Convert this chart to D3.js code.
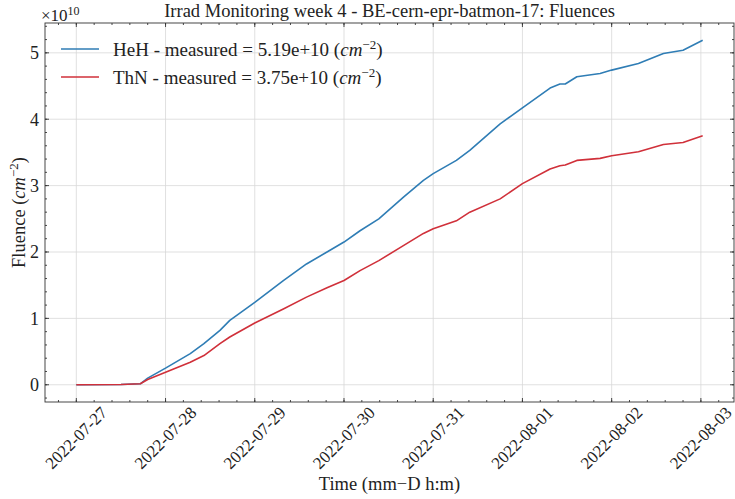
<!DOCTYPE html>
<html>
<head>
<meta charset="utf-8">
<script src="https://cdn.jsdelivr.net/npm/d3@7"></script>
<style>
  body { margin: 0; background: #fff; }
  svg { font-family: "Liberation Serif", "DejaVu Serif", serif; }
</style>
</head>
<body>
<svg id="chart" width="735" height="499"></svg>
<script>
// sample times (UTC)
const times = [
  '2022-07-27 00:00', '2022-07-27 12:00', '2022-07-27 17:13', '2022-07-27 19:12',
  '2022-07-28 00:00', '2022-07-28 06:39', '2022-07-28 10:19', '2022-07-28 14:38',
  '2022-07-28 17:17', '2022-07-29 00:00', '2022-07-29 07:41', '2022-07-29 13:55',
  '2022-07-29 19:26', '2022-07-30 00:00', '2022-07-30 04:19', '2022-07-30 09:22',
  '2022-07-30 16:05', '2022-07-30 21:22', '2022-07-31 00:00', '2022-07-31 06:14',
  '2022-07-31 09:50', '2022-07-31 18:00', '2022-08-01 00:00', '2022-08-01 07:26',
  '2022-08-01 10:05', '2022-08-01 11:31', '2022-08-01 14:38', '2022-08-01 20:53',
  '2022-08-02 00:00', '2022-08-02 07:12', '2022-08-02 13:55', '2022-08-02 19:12',
  '2022-08-03 00:29'
]
// fluences in units of 1e10 cm^-2
const hehValues = [
  0, 0.005, 0.015, 0.10, 0.25, 0.47, 0.62, 0.82, 0.97, 1.24, 1.57, 1.82,
  2.00, 2.15, 2.32, 2.50, 2.83, 3.08, 3.18, 3.38, 3.53, 3.93, 4.17, 4.47,
  4.53, 4.53, 4.64, 4.69, 4.74, 4.84, 4.99, 5.04, 5.19
]
const thnValues = [
  0, 0.005, 0.015, 0.08, 0.19, 0.34, 0.44, 0.62, 0.72, 0.93, 1.14, 1.32,
  1.46, 1.57, 1.72, 1.87, 2.10, 2.28, 2.35, 2.47, 2.60, 2.80, 3.03, 3.25,
  3.30, 3.31, 3.38, 3.41, 3.45, 3.51, 3.62, 3.65, 3.75
]
const seriesNames = ['HeH - measured = 5.19e+10 ', 'ThN - measured = 3.75e+10 ']
const seriesColors = ['#2f7db5', '#d0303a']
const yTicks = [0, 1, 2, 3, 4, 5]
const titleText = 'Irrad Monitoring week 4 - BE-cern-epr-batmon-17: Fluences'

const parseTime = d3.utcParse('%Y-%m-%d %H:%M')
const dates = times.map(parseTime)
const series = [hehValues, thnValues].map(vals => vals.map((v, i) => ({ t: dates[i], v })))

const mLeft = 45, mRight = 734, mTop = 23, mBottom = 402
const svg = d3.select('#chart')

// matplotlib style 5% margins
const [t0, t1] = d3.extent(dates)
const tPad = (t1 - t0) * 0.05
const x = d3.scaleUtc()
  .domain([new Date(+t0 - tPad), new Date(+t1 + tPad)])
  .range([mLeft, mRight])
const allVals = hehValues.concat(thnValues)
const vMin = d3.min(allVals), vMax = d3.max(allVals)
const vPad = (vMax - vMin) * 0.05
const y = d3.scaleLinear()
  .domain([vMin - vPad, vMax + vPad])
  .range([mBottom, mTop])

const dayTicks = d3.utcDay.range(d3.utcDay.ceil(x.domain()[0]), x.domain()[1])
// minor ticks: 5 per day
const minorX = []
const stepMs = 0.2 * 864e5
for (let ms = +dayTicks[0] - 5 * stepMs; ms < +x.domain()[1]; ms += stepMs) {
  if (ms > +x.domain()[0]) minorX.push(new Date(ms))
}
const minorY = d3.range(-0.2, 5.5, 0.2).filter(v => v > y.domain()[0] && v < y.domain()[1])

// grid
const grid = svg.append('g').attr('stroke', '#d8d8d8').attr('stroke-width', 0.8)
grid.selectAll(null).data(dayTicks).enter().append('line')
  .attr('x1', d => x(d)).attr('x2', d => x(d)).attr('y1', mTop).attr('y2', mBottom)
grid.selectAll(null).data(yTicks).enter().append('line')
  .attr('x1', mLeft).attr('x2', mRight).attr('y1', d => y(d)).attr('y2', d => y(d))

// lines
const line = d3.line().x(d => x(d.t)).y(d => y(d.v))
svg.append('g').selectAll('path').data(series).enter().append('path')
  .attr('d', line)
  .attr('fill', 'none')
  .attr('stroke', (d, i) => seriesColors[i])
  .attr('stroke-width', 1.6)
  .attr('stroke-linejoin', 'round')

// frame + inward ticks
const frame = svg.append('g').attr('stroke', '#333').attr('stroke-width', 0.9)
frame.append('rect').attr('x', mLeft).attr('y', mTop)
  .attr('width', mRight - mLeft).attr('height', mBottom - mTop).attr('fill', 'none')
const tickX = (data, len) => {
  frame.selectAll(null).data(data).enter().append('line')
    .attr('x1', d => x(d)).attr('x2', d => x(d)).attr('y1', mBottom).attr('y2', mBottom - len)
  frame.selectAll(null).data(data).enter().append('line')
    .attr('x1', d => x(d)).attr('x2', d => x(d)).attr('y1', mTop).attr('y2', mTop + len)
}
const tickY = (data, len) => {
  frame.selectAll(null).data(data).enter().append('line')
    .attr('y1', d => y(d)).attr('y2', d => y(d)).attr('x1', mLeft).attr('x2', mLeft + len)
  frame.selectAll(null).data(data).enter().append('line')
    .attr('y1', d => y(d)).attr('y2', d => y(d)).attr('x1', mRight).attr('x2', mRight - len)
}
tickX(dayTicks, 4)
tickX(minorX, 2)
tickY(yTicks, 4)
tickY(minorY, 2)

// tick labels
const fmt = d3.utcFormat('%Y-%m-%d')
svg.append('g').selectAll('text').data(dayTicks).enter().append('text')
  .attr('transform', d => `translate(${x(d)},438) rotate(-45)`)
  .attr('text-anchor', 'middle')
  .attr('dominant-baseline', 'central')
  .attr('font-size', 17)
  .attr('fill', '#222')
  .text(fmt)

svg.append('g').selectAll('text').data(yTicks).enter().append('text')
  .attr('x', mLeft - 6)
  .attr('y', d => y(d))
  .attr('dy', '0.35em')
  .attr('text-anchor', 'end')
  .attr('font-size', 18)
  .attr('fill', '#222')
  .text(d => d)

// offset text
const off = svg.append('text').attr('x', mLeft - 4).attr('y', 21).attr('font-size', 17).attr('fill', '#222')
off.append('tspan').text('×10')
off.append('tspan').attr('font-size', 12).attr('dy', -6).text('10')

// title
svg.append('text')
  .attr('x', (mLeft + mRight) / 2).attr('y', 17)
  .attr('text-anchor', 'middle')
  .attr('font-size', 18.5)
  .attr('fill', '#222')
  .text(titleText)

// axis labels
svg.append('text')
  .attr('x', (mLeft + mRight) / 2).attr('y', 490)
  .attr('text-anchor', 'middle')
  .attr('font-size', 18.5)
  .attr('fill', '#222')
  .text('Time (mm\u2212D h:m)')

const yl = svg.append('text')
  .attr('transform', `translate(25,${(mTop + mBottom) / 2}) rotate(-90)`)
  .attr('text-anchor', 'middle')
  .attr('font-size', 18.5)
  .attr('fill', '#222')
yl.append('tspan').text('Fluence (')
yl.append('tspan').attr('font-style', 'italic').text('cm')
yl.append('tspan').attr('font-size', 13).attr('dy', -7).text('\u22122')
yl.append('tspan').attr('dy', 7).text(')')

// legend
const leg = svg.append('g').selectAll('g').data(seriesNames).enter().append('g')
  .attr('transform', (d, i) => `translate(61,${49 + i * 28})`)
leg.append('line')
  .attr('x1', 0).attr('x2', 38)
  .attr('stroke', (d, i) => seriesColors[i])
  .attr('stroke-width', 1.6)
leg.each(function (d) {
  const t = d3.select(this).append('text')
    .attr('x', 52).attr('y', 6.5)
    .attr('font-size', 19)
    .attr('fill', '#222')
  t.append('tspan').text(d + '(')
  t.append('tspan').attr('font-style', 'italic').text('cm')
  t.append('tspan').attr('font-size', 13).attr('dy', -7).text('\u22122')
  t.append('tspan').attr('dy', 7).text(')')
})
</script>
</body>
</html>
